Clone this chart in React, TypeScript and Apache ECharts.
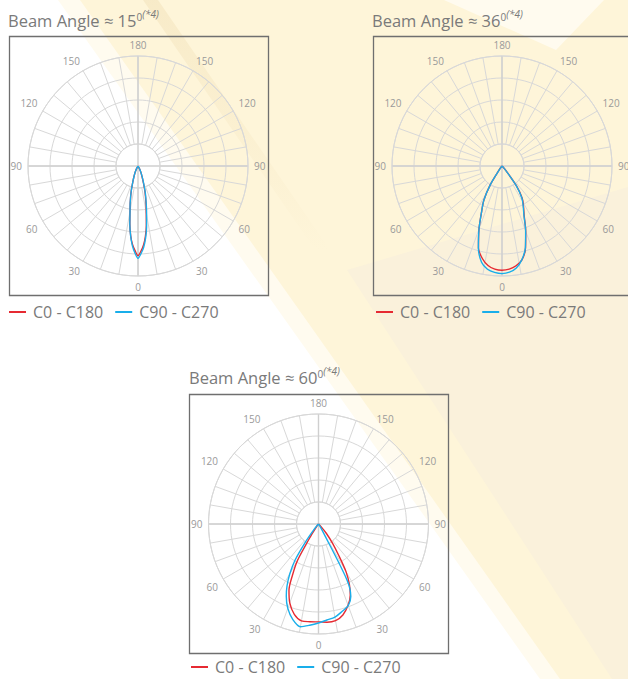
import React, { useEffect, useRef } from 'react';
import * as echarts from 'echarts';

// ---------- data ----------
const titleTexts = ['Beam Angle ≈ 15', 'Beam Angle ≈ 36', 'Beam Angle ≈ 60'];
const seriesNames = ['C0 - C180', 'C90 - C270'];
const labelledAngles = [0, 30, 60, 90, 120, 150, 180];

// chart 1 (15°): gamma angles (deg from nadir) and relative intensity (grid rings 0..5)
const gamma15 = [0, 2, 4, 6, 8, 10, 12, 15, 18, 21, 25, 30, 35];
const red15Left = [4.08, 3.85, 3.58, 3.18, 2.66, 2.09, 1.7, 1.2, 0.76, 0.5, 0.28, 0.1, 0];
const red15Right = [4.08, 3.87, 3.6, 3.22, 2.72, 2.15, 1.75, 1.24, 0.78, 0.5, 0.28, 0.1, 0];
const blue15Left = [4.2, 3.96, 3.64, 3.2, 2.67, 2.09, 1.71, 1.2, 0.76, 0.5, 0.28, 0.1, 0];
const blue15Right = [4.2, 3.98, 3.7, 3.3, 2.8, 2.25, 1.82, 1.3, 0.82, 0.52, 0.28, 0.1, 0];

// chart 2 (36°)
const gamma36 = [0, 4, 8, 12, 16, 20, 24, 28, 32, 36, 40, 45, 50];
const red36Left = [4.74, 4.7, 4.57, 4.3, 3.88, 3.06, 2.28, 1.75, 1.0, 0.22, 0.04, 0, 0];
const red36Right = [4.74, 4.7, 4.58, 4.36, 3.88, 3.15, 2.48, 2.08, 1.74, 1.12, 0.32, 0.05, 0];
const blue36Left = [4.89, 4.85, 4.74, 4.47, 3.89, 3.06, 2.28, 1.75, 1.0, 0.2, 0.04, 0, 0];
const blue36Right = [4.89, 4.84, 4.68, 4.35, 3.86, 3.14, 2.45, 2.05, 1.7, 1.1, 0.3, 0.05, 0];

// chart 3 (60°)
const gamma60 = [0, 5, 10, 15, 20, 24, 27, 30, 33, 36, 40, 45, 50];
const red60Left = [4.45, 4.46, 4.47, 4.25, 3.82, 3.3, 2.6, 1.9, 0.6, 0.15, 0, 0, 0];
const red60Right = [4.45, 4.48, 4.46, 4.28, 3.93, 3.55, 3.1, 2.5, 1.65, 1.1, 0.55, 0.15, 0];
const blue60Left = [4.5, 4.62, 4.74, 4.5, 4.08, 3.6, 3.15, 2.6, 1.95, 1.0, 0.3, 0.05, 0];
const blue60Right = [4.45, 4.38, 4.3, 4.12, 3.95, 3.61, 2.85, 0.35, 0.05, 0, 0, 0, 0];

// ---------- layout / style ----------
const FONT = '"Open Sans", "DejaVu Sans", sans-serif';
const TEXT = '#7a7a7a';
const GRID = '#d8d8d8';
const RED = '#e62a32';
const BLUE = '#19aeea';
const R_OUT = 110;
const R_IN = 22;

const panels = [
  { cx: 138, cy: 166, bx: 9, by: 36, tx: 8, ty: 9, lx: 9, ly: 304, gamma: gamma15, red: [red15Left, red15Right], blue: [blue15Left, blue15Right] },
  { cx: 502, cy: 166, bx: 373, by: 36, tx: 372, ty: 9, lx: 376, ly: 304, gamma: gamma36, red: [red36Left, red36Right], blue: [blue36Left, blue36Right] },
  { cx: 318.5, cy: 524, bx: 189, by: 394, tx: 189, ty: 366, lx: 191, ly: 659, gamma: gamma60, red: [red60Left, red60Right], blue: [blue60Left, blue60Right] },
];

function loop(gamma: number[], left: number[], right: number[]) {
  const n = gamma.length;
  const pts: number[][] = [[0, gamma[n - 1]]];
  for (let i = n - 1; i >= 0; i--) if (left[i] > 0) pts.push([left[i], gamma[i]]);
  for (let i = 1; i < n; i++) if (right[i] > 0) pts.push([right[i], 360 - gamma[i]]);
  pts.push([0, 360 - gamma[n - 1]]);
  return pts;
}

function angleLabel(v: number) {
  const n = Math.round(v);
  if (n >= 360 || n % 30 !== 0) return '';
  const d = n <= 180 ? n : 360 - n;
  return labelledAngles.includes(d) ? String(d) : '';
}

function buildOption() {
  const polar: any[] = [];
  const angleAxis: any[] = [];
  const radiusAxis: any[] = [];
  const series: any[] = [];
  const title: any[] = [];
  const legend: any[] = [];
  const graphic: any[] = [];

  // background light beams
  graphic.push(
    { type: 'polygon', z: -20, silent: true, shape: { points: [[58, 0], [628, 0], [628, 679], [540, 679]] }, style: { fill: '#fffbef' } },
    { type: 'polygon', z: -19, silent: true, shape: { points: [[80, 0], [444, 0], [556, 50], [604, 0], [628, 0], [628, 679], [560, 679]] }, style: { fill: '#fef5d9' } },
    { type: 'polygon', z: -18, silent: true, shape: { points: [[347, 270], [628, 187], [628, 679], [612, 679]] }, style: { fill: '#faf1db' } },
    {
      type: 'polygon', z: -17, silent: true, shape: { points: [[143, 0], [158, 0], [330, 250], [315, 250]] },
      style: {
        fill: { type: 'linear', x: 0, y: 0, x2: 0, y2: 1, colorStops: [{ offset: 0, color: 'rgba(240,222,180,0.45)' }, { offset: 1, color: 'rgba(240,222,180,0)' }] },
      },
    },
  );

  panels.forEach((p, k) => {
    const gi = k * 2;
    const di = k * 2 + 1;
    // grid polar (with hole)
    polar.push({ center: [p.cx, p.cy], radius: [R_IN, R_OUT] });
    angleAxis.push({
      polarIndex: gi, type: 'value', min: 0, max: 360, interval: 10, startAngle: 270, clockwise: true,
      axisLine: { show: true, lineStyle: { color: GRID, width: 1 } },
      axisTick: { show: false },
      splitLine: { show: true, lineStyle: { color: GRID, width: 1 } },
      axisLabel: { show: true, margin: 6, color: '#9a9a9a', fontSize: 10, fontFamily: FONT, formatter: angleLabel },
    });
    radiusAxis.push({
      polarIndex: gi, type: 'value', min: 1, max: 5, interval: 1,
      axisLine: { show: false }, axisTick: { show: false }, axisLabel: { show: false },
      splitLine: { show: true, lineStyle: { color: GRID, width: 1 } },
    });
    // data polar
    polar.push({ center: [p.cx, p.cy], radius: [0, R_OUT] });
    angleAxis.push({
      polarIndex: di, type: 'value', min: 0, max: 360, interval: 90, startAngle: 270, clockwise: true,
      axisLine: { show: false }, axisTick: { show: false }, axisLabel: { show: false },
      splitLine: { show: true, lineStyle: { color: '#cfcfcf', width: 1.4 } },
    });
    radiusAxis.push({
      polarIndex: di, type: 'value', min: 0, max: 5,
      axisLine: { show: false }, axisTick: { show: false }, axisLabel: { show: false }, splitLine: { show: false },
    });
    series.push({
      name: seriesNames[0], type: 'line', coordinateSystem: 'polar', polarIndex: di, showSymbol: false, smooth: 0.3,
      data: loop(p.gamma, p.red[0], p.red[1]), lineStyle: { color: RED, width: 1.4 }, itemStyle: { color: RED }, z: 3,
    });
    series.push({
      name: seriesNames[1], type: 'line', coordinateSystem: 'polar', polarIndex: di, showSymbol: false, smooth: 0.3,
      data: loop(p.gamma, p.blue[0], p.blue[1]), lineStyle: { color: BLUE, width: 1.4 }, itemStyle: { color: BLUE }, z: 4,
    });
    title.push({
      text: `{a|${titleTexts[k]}}{s|0}{i|(*4)}`,
      left: p.tx, top: p.ty, padding: 0,
      textStyle: {
        fontWeight: 'normal',
        rich: {
          a: { fontSize: 16.5, fontFamily: FONT, fontWeight: 'normal', color: TEXT, lineHeight: 20, verticalAlign: 'bottom' },
          s: { fontSize: 10, fontFamily: FONT, fontWeight: 'normal', color: TEXT, lineHeight: 12, verticalAlign: 'top', padding: [3, 0, 0, 0] },
          i: { fontSize: 10, fontFamily: FONT, fontWeight: 'normal', color: TEXT, fontStyle: 'italic', lineHeight: 12, verticalAlign: 'top' },
        },
      },
    });
    legend.push({
      data: seriesNames, left: p.lx, top: p.ly, padding: 0, itemGap: 12, itemWidth: 17, itemHeight: 2, icon: 'rect',
      textStyle: { fontSize: 16, fontFamily: FONT, color: TEXT, padding: [0, 0, 0, 2] },
      selectedMode: false,
    });
    graphic.push({
      type: 'rect', z: 5, silent: true, shape: { x: p.bx + 0.5, y: p.by + 0.5, width: 259, height: 259 },
      style: { fill: 'none', stroke: '#6f6f6f', lineWidth: 1.3 },
    });
  });

  return { animation: false, backgroundColor: '#ffffff', polar, angleAxis, radiusAxis, series, title, legend, graphic };
}

export default function App() {
  const ref = useRef<HTMLDivElement>(null);
  useEffect(() => {
    document.body.style.margin = '0';
    const chart = echarts.init(ref.current!, undefined, { renderer: 'svg' });
    chart.setOption(buildOption());
    return () => chart.dispose();
  }, []);
  return <div ref={ref} style={{ position: 'absolute', left: 0, top: 0, width: 628, height: 679 }} />;
}
